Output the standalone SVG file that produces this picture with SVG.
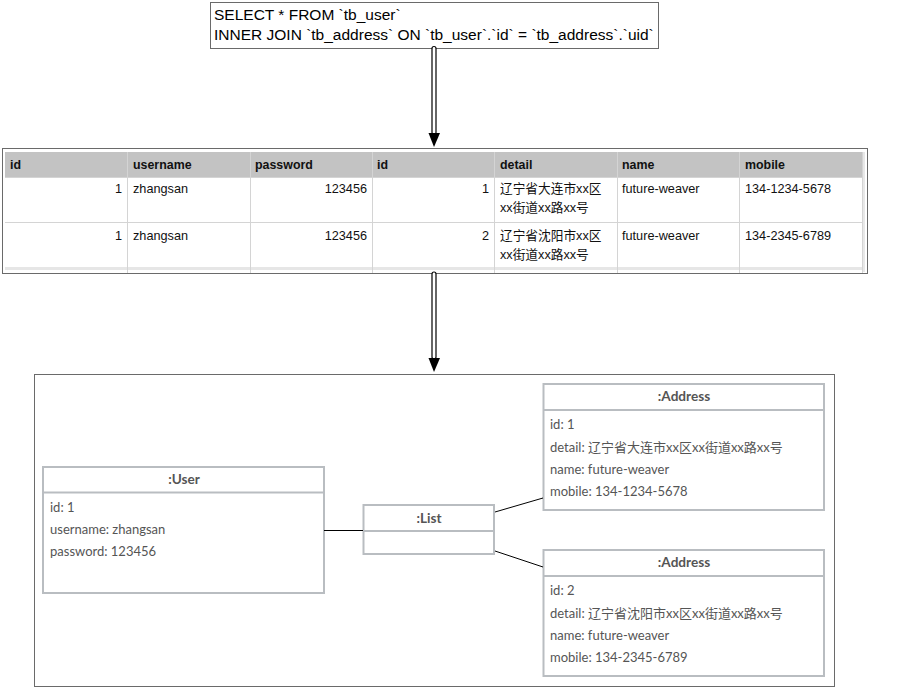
<svg xmlns="http://www.w3.org/2000/svg" width="912" height="687" viewBox="0 0 912 687">
<style>
.sql{font-family:"Liberation Sans","Noto Sans CJK SC",sans-serif;font-size:15.5px;fill:#000}
.th{font-family:"Liberation Sans","Noto Sans CJK SC",sans-serif;font-size:12.4px;font-weight:bold;fill:#111}
.td{font-family:"Liberation Sans","Noto Sans CJK SC",sans-serif;font-size:12.7px;fill:#111}
.r{text-anchor:end}
.frame{fill:#fff;stroke:#6a6a6a;stroke-width:1}
.grid{stroke:#d4d4d4;stroke-width:1}
.box{fill:#fff;stroke:#b9bdc1;stroke-width:2}
.sep{stroke:#b9bdc1;stroke-width:2}
.ttl{font-family:Lato,"Noto Sans CJK SC",sans-serif;font-size:13.6px;font-weight:bold;fill:#555;text-anchor:middle}
.att{font-family:Lato,"Noto Sans CJK SC",sans-serif;font-size:13px;fill:#555}
.conn{stroke:#000;stroke-width:1;fill:none}
.shaft{fill:#fff;stroke:#000;stroke-width:1.2}
</style>

<g id="sql">
  <rect class="frame" x="210.5" y="2.5" width="448" height="46"/>
  <text class="sql" x="214" y="19.5">SELECT * FROM `tb_user`</text>
  <text class="sql" x="214" y="39.5">INNER JOIN `tb_address` ON `tb_user`.`id` = `tb_address`.`uid`</text>
</g>

<g id="result-table">
  <rect class="frame" x="2.5" y="148.5" width="865" height="125"/>
  <rect x="5" y="152" width="857" height="25" fill="#c3c3c3"/>
  <rect x="5" y="177" width="857" height="95" fill="#fff"/>
  <rect x="862" y="152" width="3" height="120" fill="#e8e8e8"/>
  <rect x="5" y="267" width="857" height="3" fill="#e6e6e6"/>
  <g class="grid">
    <line x1="5" y1="177.5" x2="862" y2="177.5"/>
    <line x1="5" y1="222.5" x2="862" y2="222.5"/>
    <line x1="127.5" y1="152" x2="127.5" y2="273"/>
    <line x1="250.5" y1="152" x2="250.5" y2="273"/>
    <line x1="372.5" y1="152" x2="372.5" y2="273"/>
    <line x1="494.5" y1="152" x2="494.5" y2="273"/>
    <line x1="617.5" y1="152" x2="617.5" y2="273"/>
    <line x1="739.5" y1="152" x2="739.5" y2="273"/>
    <line x1="862.5" y1="152" x2="862.5" y2="273"/>
  </g>
  <text class="th" x="10" y="169">id</text>
  <text class="th" x="133" y="169">username</text>
  <text class="th" x="255" y="169">password</text>
  <text class="th" x="377" y="169">id</text>
  <text class="th" x="500" y="169">detail</text>
  <text class="th" x="622" y="169">name</text>
  <text class="th" x="745" y="169">mobile</text>

  <text class="td r" x="122" y="193">1</text>
  <text class="td" x="133" y="193">zhangsan</text>
  <text class="td r" x="367" y="193">123456</text>
  <text class="td r" x="489" y="193">1</text>
  <text class="td" x="500" y="193">辽宁省大连市xx区</text>
  <text class="td" x="500" y="212">xx街道xx路xx号</text>
  <text class="td" x="622" y="193">future-weaver</text>
  <text class="td" x="745" y="193">134-1234-5678</text>

  <text class="td r" x="122" y="240">1</text>
  <text class="td" x="133" y="240">zhangsan</text>
  <text class="td r" x="367" y="240">123456</text>
  <text class="td r" x="489" y="240">2</text>
  <text class="td" x="500" y="240">辽宁省沈阳市xx区</text>
  <text class="td" x="500" y="259">xx街道xx路xx号</text>
  <text class="td" x="622" y="240">future-weaver</text>
  <text class="td" x="745" y="240">134-2345-6789</text>
</g>

<g id="object-diagram">
  <rect class="frame" x="34.5" y="374.5" width="800" height="312"/>
</g>

<g id="user">
  <rect class="box" x="43" y="467" width="281" height="126"/>
  <line class="sep" x1="43" y1="492.5" x2="324" y2="492.5"/>
  <text class="ttl" x="184" y="484">:User</text>
  <text class="att" x="50" y="512">id: 1</text>
  <text class="att" x="50" y="534">username: zhangsan</text>
  <text class="att" x="50" y="556">password: 123456</text>
</g>

<g id="list">
  <rect class="box" x="363.5" y="505" width="130.5" height="49"/>
  <line class="sep" x1="363.5" y1="531" x2="494" y2="531"/>
  <text class="ttl" x="429" y="523">:List</text>
</g>

<g id="address1">
  <rect class="box" x="543.5" y="384" width="280.5" height="126"/>
  <line class="sep" x1="543.5" y1="410" x2="824" y2="410"/>
  <text class="ttl" x="684" y="401">:Address</text>
  <text class="att" x="550" y="429">id: 1</text>
  <text class="att" x="550" y="452">detail: 辽宁省大连市xx区xx街道xx路xx号</text>
  <text class="att" x="550" y="474">name: future-weaver</text>
  <text class="att" x="550" y="496">mobile: 134-1234-5678</text>
</g>

<g id="address2">
  <rect class="box" x="543.5" y="550" width="280.5" height="126"/>
  <line class="sep" x1="543.5" y1="576" x2="824" y2="576"/>
  <text class="ttl" x="684" y="567">:Address</text>
  <text class="att" x="550" y="595">id: 2</text>
  <text class="att" x="550" y="618">detail: 辽宁省沈阳市xx区xx街道xx路xx号</text>
  <text class="att" x="550" y="640">name: future-weaver</text>
  <text class="att" x="550" y="662">mobile: 134-2345-6789</text>
</g>

<g id="connectors">
  <rect class="shaft" x="432" y="46.5" width="4" height="88" rx="2"/>
  <polygon points="428.5,133 440,133 434,147" fill="#000"/>
  <rect class="shaft" x="432" y="272" width="4" height="87" rx="2"/>
  <polygon points="428.5,358 440,358 434,372" fill="#000"/>
  <line class="conn" x1="324" y1="530.5" x2="363" y2="530.5"/>
  <line class="conn" x1="495" y1="512" x2="543" y2="498"/>
  <line class="conn" x1="495" y1="551" x2="543" y2="567"/>
</g>
</svg>
